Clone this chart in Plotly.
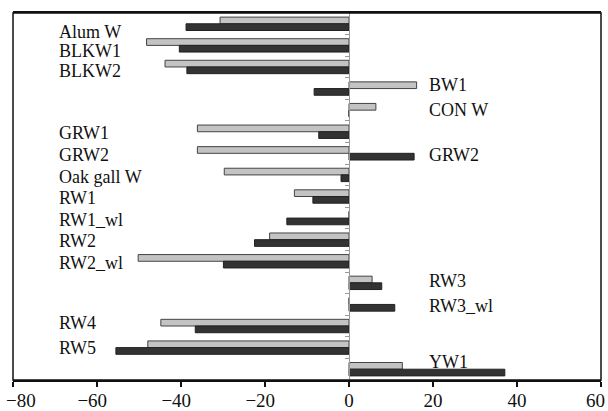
import plotly.graph_objects as go

categories = ["Alum W", "BLKW1", "BLKW2", "BW1", "CON W", "GRW1", "GRW2",
              "Oak gall W", "RW1", "RW1_wl", "RW2", "RW2_wl", "RW3", "RW3_wl",
              "RW4", "RW5", "YW1"]
light_values = [-30.7, -48.2, -43.8, 16.1, 6.4, -36.1, -36.1, -29.7, -13.0,
                0.0, -18.9, -50.2, 5.5, 0.0, -44.8, -47.9, 12.7]
dark_values = [-38.8, -40.4, -38.6, -8.3, 0.0, -7.2, 15.5, -1.9, -8.6,
               -14.8, -22.5, -29.9, 7.8, 10.9, -36.6, -55.5, 37.1]
left_labels = ["Alum W", "BLKW1", "BLKW2", "GRW1", "GRW2", "Oak gall W", "RW1",
               "RW1_wl", "RW2", "RW2_wl", "RW4", "RW5"]
right_labels = ["BW1", "CON W", "GRW2", "RW3", "RW3_wl", "YW1"]
x_ticks = [-80, -60, -40, -20, 0, 20, 40, 60]

ypos = list(range(len(categories)))
font_name = "Liberation Serif, Times New Roman, serif"
NB = "\u00a0"


def fmt(v):
    return ("\u2212" if v < 0 else "") + str(abs(v))


def tick_label(v):
    if v in (x_ticks[0], x_ticks[-1]):
        return ""                  # edge labels drawn below, kept inside the frame
    if v < 0:
        return fmt(v) + NB * 2
    return fmt(v)


fig = go.Figure()
fig.add_trace(go.Bar(y=ypos, x=light_values, orientation="h",
                     marker=dict(color="#c3c3c3", line=dict(color="#444444", width=1)),
                     showlegend=False))
fig.add_trace(go.Bar(y=ypos, x=dark_values, orientation="h",
                     marker=dict(color="#333333", line=dict(color="#222222", width=1)),
                     showlegend=False))

# small vertical nudges (pixels) for the text labels, as placed in the original figure
left_nudge = {"Alum W": -8, "BLKW1": -6, "BLKW2": -4.5, "RW4": 3, "RW5": 0}
right_nudge = {"BW1": 3.5, "CON W": 0, "GRW2": -1.5, "RW3": 2, "RW3_wl": -2, "YW1": 7.5}

for name in left_labels:
    fig.add_annotation(x=-69.5, y=categories.index(name), text=name, showarrow=False,
                       xanchor="left", yanchor="middle",
                       yshift=left_nudge.get(name, -1.7),
                       font=dict(family=font_name, size=18, color="#111111"))
for name in right_labels:
    fig.add_annotation(x=18.5, y=categories.index(name), text=name, showarrow=False,
                       xanchor="left", yanchor="middle",
                       yshift=right_nudge.get(name, 0),
                       font=dict(family=font_name, size=18, color="#111111"))

# first and last x tick labels, shifted inward so they stay inside the page
fig.add_annotation(x=x_ticks[0], y=0, xref="x", yref="paper", text=fmt(x_ticks[0]),
                   showarrow=False, xanchor="left", yanchor="middle",
                   xshift=-8, yshift=-20, borderpad=0,
                   font=dict(family=font_name, size=19, color="#111111"))
fig.add_annotation(x=x_ticks[-1], y=0, xref="x", yref="paper", text=fmt(x_ticks[-1]),
                   showarrow=False, xanchor="right", yanchor="middle",
                   xshift=5, yshift=-20, borderpad=0,
                   font=dict(family=font_name, size=19, color="#111111"))

zero_pos = (0 - (-80)) / (60 - (-80))

fig.update_layout(
    width=608, height=411,
    margin=dict(l=13, r=7, t=13, b=31),
    paper_bgcolor="white", plot_bgcolor="white",
    barmode="group", bargap=0.38, bargroupgap=0,
    font=dict(family=font_name, size=19, color="#111111"),
    xaxis=dict(range=[-80, 60], tickvals=x_ticks,
               ticktext=[tick_label(v) for v in x_ticks],
               ticks="outside", ticklen=5,
               tickcolor="#111111", tickwidth=1.5, ticklabeloverflow="allow",
               ticklabelstandoff=-3,
               showline=True, linecolor="#111111", linewidth=1.5, mirror=True,
               showgrid=False, zeroline=False, automargin=False,
               tickfont=dict(family=font_name, size=19, color="#111111")),
    yaxis=dict(range=[len(categories) - 0.5, -0.5], anchor="free", position=zero_pos,
               tickvals=[i + 0.5 for i in ypos[:-1]], showticklabels=False,
               ticks="outside", ticklen=4, tickcolor="#999999", tickwidth=1,
               showline=True, linecolor="#999999", linewidth=1, automargin=False,
               showgrid=False, zeroline=False),
    shapes=[dict(type="rect", xref="paper", yref="paper", x0=0, y0=0, x1=1, y1=1,
                 line=dict(color="#111111", width=1.5), fillcolor="rgba(0,0,0,0)",
                 layer="above")],
)

fig.write_html("out.html")
